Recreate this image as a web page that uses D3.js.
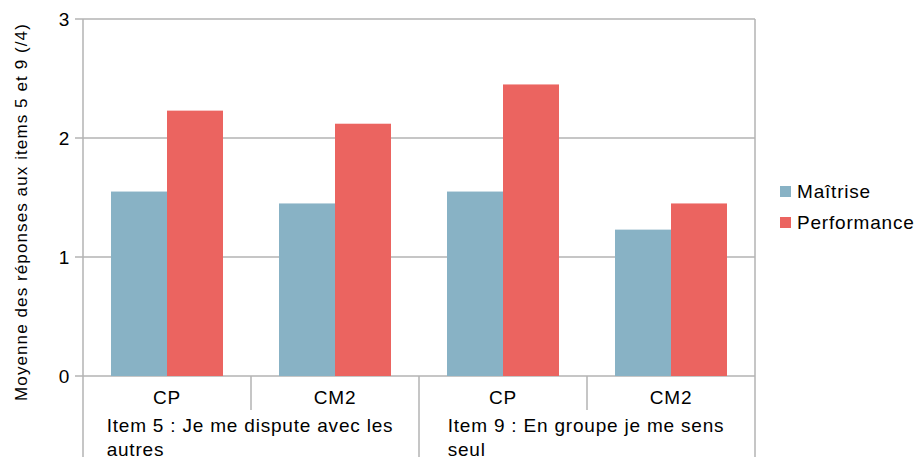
<!DOCTYPE html>
<html>
<head>
<meta charset="utf-8">
<script src="https://cdn.jsdelivr.net/npm/d3@7"></script>
<style>
body { margin: 0; background: #fff; }
text { font-family: "Liberation Sans", Arial, sans-serif; fill: #000; letter-spacing: 0.8px; }
</style>
</head>
<body>
<div id="chart"></div>
<script>
// data
var categories = ["CP", "CM2", "CP", "CM2"];
var groups = [["Item 5 : Je me dispute avec les", "autres"], ["Item 9 : En groupe je me sens", "seul"]];
var series = ["Maîtrise", "Performance"];
var maitrise = [1.55, 1.45, 1.55, 1.23];
var performance = [2.23, 2.12, 2.45, 1.45];
var yTicks = [0, 1, 2, 3];
var colors = ["#88b2c5", "#eb6460"];

var W = 918, H = 461;
var mLeft = 83, mRight = 755, mTop = 19, mBottom = 376;

var svg = d3.select("#chart").append("svg")
    .attr("width", W).attr("height", H);

var keys = categories.map(function(c, i) { return i; });
var x0 = d3.scaleBand().domain(keys).range([mLeft, mRight]).padding(0);
var x1 = d3.scaleBand().domain(series).range([0, x0.bandwidth()])
    .paddingInner(0).paddingOuter(0.5);
var y = d3.scaleLinear().domain([0, 3]).range([mBottom, mTop]);

var grey = "#b3b3b3";

// gridlines + ticks
svg.append("g").selectAll("line").data(yTicks).enter().append("line")
    .attr("x1", mLeft - 8).attr("x2", mRight)
    .attr("y1", function(d) { return y(d); }).attr("y2", function(d) { return y(d); })
    .attr("stroke", grey).attr("stroke-width", 1.5);

// left and right borders
svg.append("line").attr("x1", mLeft).attr("x2", mLeft).attr("y1", mTop).attr("y2", H - 4)
    .attr("stroke", grey).attr("stroke-width", 1.5);
svg.append("line").attr("x1", mRight).attr("x2", mRight).attr("y1", mTop).attr("y2", H - 4)
    .attr("stroke", grey).attr("stroke-width", 1.5);

// y tick labels
svg.append("g").selectAll("text").data(yTicks).enter().append("text")
    .attr("x", 70).attr("y", function(d) { return y(d) + 7; })
    .attr("text-anchor", "end").style("font-size", "19px")
    .text(function(d) { return d; });

// axis title
svg.append("text")
    .attr("transform", "translate(27,212) rotate(-90)")
    .attr("text-anchor", "middle").style("font-size", "17px")
    .style("letter-spacing", "1.1px")
    .text("Moyenne des réponses aux items 5 et 9 (/4)");

// bars
var rows = keys.map(function(i) { return [maitrise[i], performance[i]]; });
var g = svg.append("g").selectAll("g").data(rows).enter().append("g")
    .attr("transform", function(d, i) { return "translate(" + x0(i) + ",0)"; });
g.selectAll("rect").data(function(d) { return d.map(function(v, j) { return {s: series[j], v: v, j: j}; }); })
    .enter().append("rect")
    .attr("x", function(d) { return x1(d.s); })
    .attr("width", x1.bandwidth())
    .attr("y", function(d) { return y(d.v); })
    .attr("height", function(d) { return y(0) - y(d.v); })
    .attr("fill", function(d) { return colors[d.j]; });

// category dividers (inner)
svg.append("g").selectAll("line").data([1, 3]).enter().append("line")
    .attr("x1", function(d) { return x0(d); }).attr("x2", function(d) { return x0(d); })
    .attr("y1", mBottom).attr("y2", 410)
    .attr("stroke", grey).attr("stroke-width", 1.5);
// group divider
svg.append("line").attr("x1", x0(2)).attr("x2", x0(2)).attr("y1", mBottom).attr("y2", H - 4)
    .attr("stroke", grey).attr("stroke-width", 1.5);

// category labels
svg.append("g").selectAll("text").data(keys).enter().append("text")
    .attr("x", function(i) { return x0(i) + x0.bandwidth() / 2; })
    .attr("y", 404).attr("text-anchor", "middle").style("font-size", "19px")
    .text(function(i) { return categories[i]; });

// group labels
groups.forEach(function(lines, gi) {
  var cx = x0(gi * 2 + 1);
  var t = svg.append("text").style("font-size", "19px");
  var first = t.append("tspan").attr("x", 0).attr("y", 432).text(lines[0]);
  var w = first.node().getComputedTextLength();
  var x = cx - w / 2 - 1;
  first.attr("x", x);
  t.append("tspan").attr("x", x).attr("y", 456).text(lines[1]);
});

// legend
var lg = svg.append("g").selectAll("g").data(series).enter().append("g")
    .attr("transform", function(d, i) { return "translate(780," + (186 + i * 31) + ")"; });
lg.append("rect").attr("width", 11).attr("height", 11)
    .attr("fill", function(d, i) { return colors[i]; });
lg.append("text").attr("x", 17).attr("y", 12).style("font-size", "19px")
    .text(function(d) { return d; });
</script>
</body>
</html>
